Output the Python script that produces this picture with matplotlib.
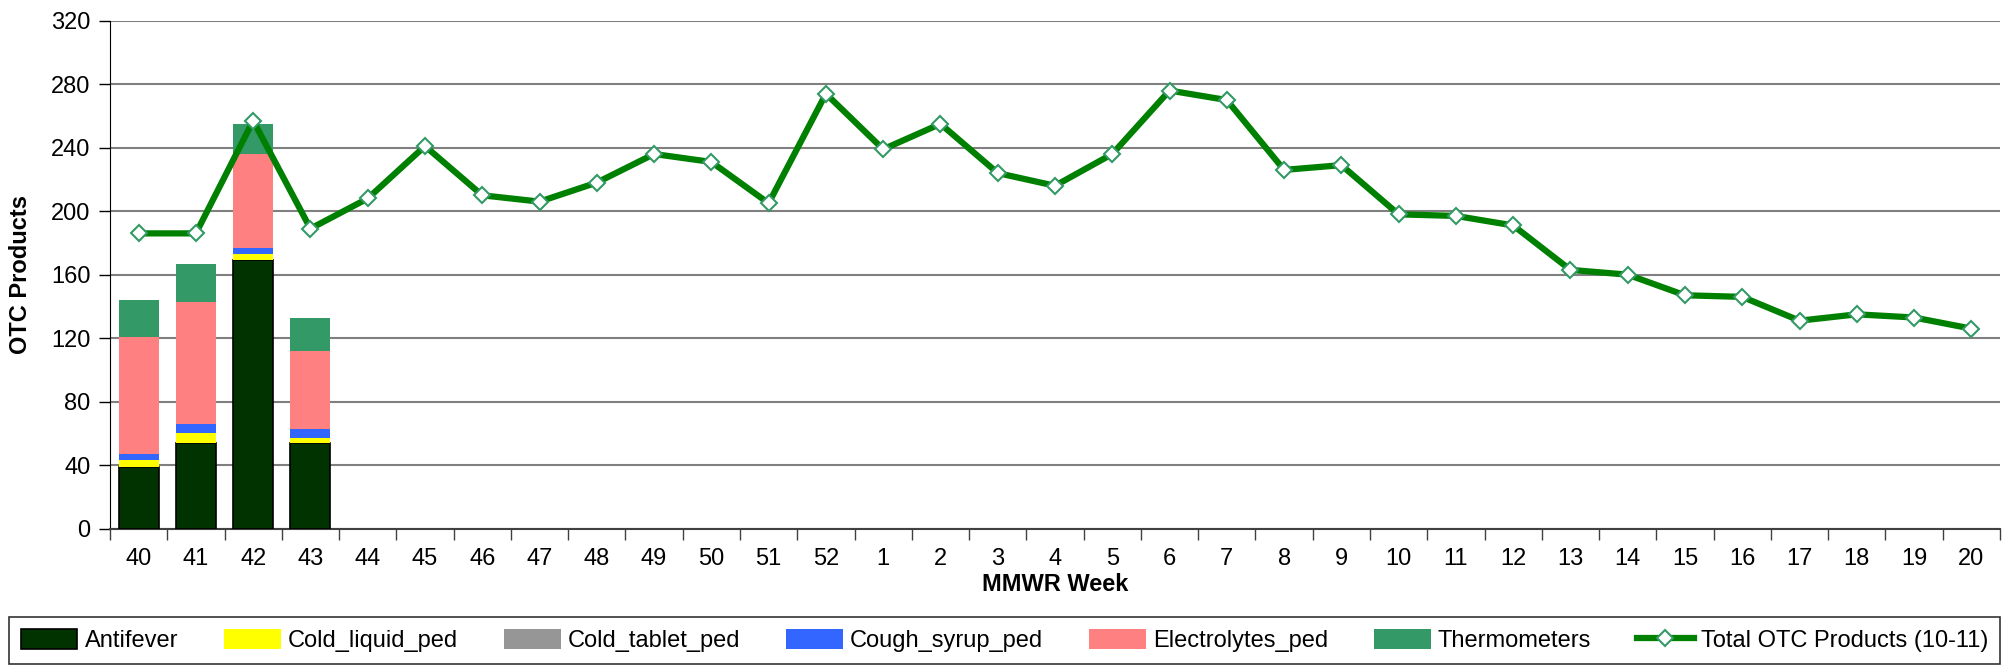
import matplotlib
matplotlib.use("Agg")
import matplotlib.pyplot as plt
import numpy as np

plt.rcParams['font.family'] = ['Liberation Sans', 'DejaVu Sans']

weeks = ["40", "41", "42", "43", "44", "45", "46", "47", "48", "49", "50", "51", "52",
         "1", "2", "3", "4", "5", "6", "7", "8", "9", "10", "11", "12", "13", "14",
         "15", "16", "17", "18", "19", "20"]

antifever = [39, 54, 169, 54]
cold_liquid_ped = [4, 6, 4, 3]
cold_tablet_ped = [0, 0, 0, 0]
cough_syrup_ped = [4, 6, 4, 6]
electrolytes_ped = [74, 77, 59, 49]
thermometers = [23, 24, 19, 21]

total_otc = [186, 186, 257, 189, 208, 241, 210, 206, 218, 236, 231, 205, 274,
             239, 255, 224, 216, 236, 276, 270, 226, 229, 198, 197, 191, 163, 160,
             147, 146, 131, 135, 133, 126]

bar_series = [
    ("Antifever", antifever, "#003300"),
    ("Cold_liquid_ped", cold_liquid_ped, "#FFFF00"),
    ("Cold_tablet_ped", cold_tablet_ped, "#969696"),
    ("Cough_syrup_ped", cough_syrup_ped, "#3366FF"),
    ("Electrolytes_ped", electrolytes_ped, "#FF8080"),
    ("Thermometers", thermometers, "#339966"),
]

fig = plt.figure(figsize=(20.07, 6.70), dpi=100)
ax = fig.add_axes([110 / 2007, 1 - 528.6 / 670, (2000 - 110) / 2007, (528.6 - 20.7) / 670])

xb = np.arange(len(antifever))
bottom = np.zeros(len(antifever))
handles = []
for name, vals, col in bar_series:
    vals = np.array(vals, dtype=float)
    if name == "Antifever":
        b = ax.bar(xb, vals, width=0.7, bottom=bottom, color=col, edgecolor="black",
                   linewidth=1.2, label=name, zorder=3)
    else:
        b = ax.bar(xb, vals, width=0.7, bottom=bottom, color=col, edgecolor="none",
                   linewidth=0, label=name, zorder=3)
    bottom += vals
    handles.append(b)

x = np.arange(len(weeks))
ln, = ax.plot(x, total_otc, color="#008000", linewidth=4.5, marker="D", markersize=8,
              markerfacecolor="white", markeredgecolor="#339966", markeredgewidth=1.5,
              label="Total OTC Products (10-11)", zorder=5)
handles.append(ln)

ax.set_xlim(-0.5, len(weeks) - 0.5)
ax.set_ylim(0, 320)
ax.set_yticks(np.arange(0, 321, 40))
ax.yaxis.grid(True, color="#808080", linewidth=1.5, zorder=0)
ax.set_axisbelow(True)

ax.set_xticks(np.arange(-0.5, len(weeks), 1.0))
ax.set_xticklabels([])
ax.set_xticks(x, minor=True)
ax.set_xticklabels(weeks, minor=True)
ax.tick_params(axis="x", which="major", length=8, width=1, color="#404040", direction="out")
ax.tick_params(axis="x", which="minor", length=0, pad=14, labelsize=17)
ax.tick_params(axis="y", length=8, width=1, labelsize=17, pad=6)

for s in ["top", "right"]:
    ax.spines[s].set_visible(False)
ax.spines["left"].set_color("black")
ax.spines["bottom"].set_color("#404040")
ax.spines["bottom"].set_linewidth(1.5)

ax.set_ylabel("OTC Products", fontsize=17, fontweight="bold", labelpad=14)
ax.set_xlabel("MMWR Week", fontsize=17, fontweight="bold", labelpad=2)

leg = fig.legend(handles=handles, labels=[h.get_label() for h in handles],
                 loc="lower left", bbox_to_anchor=(9 / 2007, 6 / 670, 1991 / 2007, 47 / 670),
                 mode="expand", ncol=7, fontsize=17, frameon=True, fancybox=False,
                 edgecolor="black", handlelength=2.4, handleheight=0.9, borderaxespad=0,
                 handletextpad=0.3, borderpad=0.5)
leg.get_frame().set_linewidth(1.2)

fig.savefig("out.png", dpi=100)
